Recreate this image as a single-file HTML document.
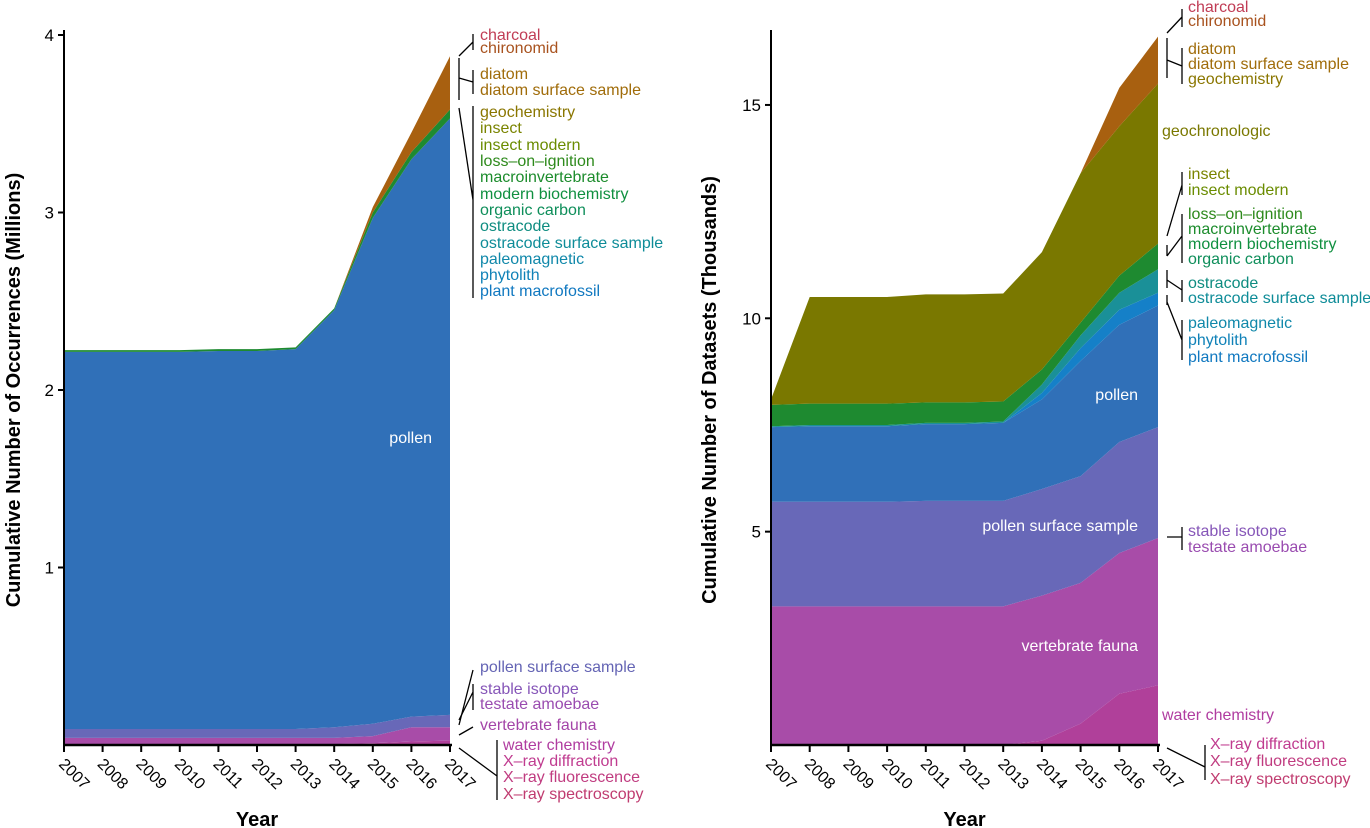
<!DOCTYPE html>
<html><head><meta charset="utf-8"><style>
body{margin:0;background:#fff;}
svg{display:block;font-family:"Liberation Sans",sans-serif;}
</style></head><body>
<svg id="chart" width="1370" height="828" viewBox="0 0 1370 828" xmlns="http://www.w3.org/2000/svg"></svg>
<script>
const years=[2007,2008,2009,2010,2011,2012,2013,2014,2015,2016,2017];
// Left panel: cumulative stacked tops (millions)
const L_water=[0.005,0.005,0.005,0.005,0.005,0.005,0.005,0.005,0.01,0.02,0.025];
const L_vert=[0.04,0.04,0.04,0.04,0.04,0.04,0.04,0.04,0.05,0.1,0.1];
const L_pss=[0.09,0.09,0.09,0.09,0.09,0.09,0.09,0.1,0.12,0.16,0.17];
const L_pollen=[2.215,2.215,2.215,2.215,2.22,2.22,2.23,2.45,2.97,3.3,3.53];
const L_green=[2.225,2.225,2.225,2.225,2.23,2.23,2.24,2.46,3.0,3.34,3.58];
const L_brown=[2.225,2.225,2.225,2.225,2.23,2.23,2.24,2.46,3.03,3.45,3.88];
const L_ticks=[1,2,3,4];
// Right panel: cumulative stacked tops (thousands)
const R_water=[0,0,0,0,0,0,0,0.1,0.5,1.2,1.4];
const R_vert=[3.25,3.25,3.25,3.25,3.25,3.25,3.25,3.5,3.8,4.5,4.85];
const R_pss=[5.7,5.7,5.7,5.7,5.72,5.72,5.72,6.0,6.3,7.1,7.45];
const R_pollen=[7.45,7.47,7.47,7.47,7.52,7.52,7.55,8.1,9.0,9.85,10.3];
const R_blue=[7.45,7.47,7.47,7.47,7.52,7.52,7.55,8.25,9.3,10.2,10.6];
const R_teal=[7.47,7.5,7.5,7.5,7.55,7.55,7.58,8.45,9.6,10.6,11.15];
const R_green=[7.97,8.0,8.0,8.0,8.03,8.03,8.05,8.8,9.9,11.0,11.75];
const R_olive=[8.1,10.5,10.5,10.5,10.56,10.56,10.58,11.55,13.4,14.5,15.5];
const R_brown=[8.1,10.5,10.5,10.5,10.56,10.56,10.58,11.55,13.4,15.4,16.6];
const R_ticks=[5,10,15];

const NS="http://www.w3.org/2000/svg";
const svg=document.getElementById('chart');
function el(t,a,p){const e=document.createElementNS(NS,t);for(const k in a)e.setAttribute(k,a[k]);(p||svg).appendChild(e);return e;}

function panel(cfg){
  const g=el('g',{});
  
  
  const x=i=>cfg.x0+(cfg.x1-cfg.x0)*(years[i]-2007)/10;
  const y=v=>cfg.y0-v*cfg.scale;
  let prev=years.map(()=>0);
  cfg.layers.forEach(L=>{
    let d='M'+years.map((_,i)=>x(i)+','+y(L.v[i])).join(' L');
    for(let i=years.length-1;i>=0;i--) d+=' L'+x(i)+','+y(prev[i]);
    const p=el('path',{d:d+'Z',fill:L.c},g);
    
    
    prev=L.v;
  });
  const ax=el('line',{x1:cfg.x0,y1:30,x2:cfg.x0,y2:cfg.y0,stroke:'#000','stroke-width':2},g);
  
  
  const bx=el('line',{x1:cfg.x0,y1:cfg.y0,x2:cfg.x1+2,y2:cfg.y0,stroke:'#000','stroke-width':2.5},g);
  
  
  cfg.ticks.forEach(t=>{
    el('line',{x1:cfg.x0-6,y1:y(t),x2:cfg.x0,y2:y(t),stroke:'#000','stroke-width':2},g);
    const tx=el('text',{x:cfg.x0-10,y:y(t)+6,'text-anchor':'end','font-size':17},g);
    tx.textContent=t;
    
    
  });
  years.forEach((yr,i)=>{
    el('line',{x1:x(i),y1:cfg.y0,x2:x(i),y2:cfg.y0+7,stroke:'#000','stroke-width':2},g);
    const tx=el('text',{x:x(i)-6,y:cfg.y0+20,'font-size':16,transform:`rotate(45 ${x(i)-6} ${cfg.y0+20})`},g);
    tx.textContent=yr;
    
    
  });
  const yt=el('text',{x:0,y:0,'font-size':20,'font-weight':'bold','text-anchor':'middle',transform:`translate(${cfg.ytx},${cfg.yty}) rotate(-90)`},g);
  yt.textContent=cfg.ytitle;
  
  
  const xt=el('text',{x:(cfg.x0+cfg.x1)/2+0,y:826,'font-size':20,'font-weight':'bold','text-anchor':'middle'},g);
  xt.textContent='Year';
  
  
  cfg.inner.forEach(t=>{
    const e=el('text',{x:t[1],y:t[2],'font-size':16,fill:'#fff','text-anchor':'end'},g);
    e.textContent=t[0];
    
    
  });
  cfg.labels.forEach(t=>{
    const e=el('text',{x:t[1],y:t[2]+5,'font-size':16,fill:t[3]},g);
    e.textContent=t[0];
    
    
  });
  cfg.lines.forEach(d=>el('path',{d:d,stroke:'#000','stroke-width':1.3,fill:'none'},g));
}
const C={charcoal:'#c03c55',chiro:'#a8521e',diatom:'#a06c0a',geo:'#8a7600',insect:'#7a8400',insectm:'#6a8c00',loi:'#2e8a1c',macro:'#1c8c2c',modbio:'#109040',org:'#0e8e5a',ostr:'#0e8c80',ostrs:'#0e8c98',paleo:'#1088aa',phyto:'#1082b8',plant:'#1078c0',pss:'#6464b4',stable:'#8656b8',testate:'#9a4cb0',vert:'#a444a8',water:'#b03ca0',xd:'#c03c90',xf:'#c03c80',xs:'#c03c70'};
panel({name:'occurrences-panel',x0:64,x1:450,y0:745,scale:177.5,ticks:L_ticks,
 ytitle:'Cumulative Number of Occurrences (Millions)',ytx:20,yty:390,
 layers:[{n:'area-water-chemistry',v:L_water,c:'#b0409a'},{n:'area-vertebrate-fauna',v:L_vert,c:'#a84ca8'},{n:'area-pollen-surface-sample',v:L_pss,c:'#6868b8'},{n:'area-pollen',v:L_pollen,c:'#3070b8'},{n:'area-green-group',v:L_green,c:'#1e8a30'},{n:'area-diatom-charcoal',v:L_brown,c:'#a86010'}],
 inner:[['pollen',432,443]],
 labels:[['charcoal',480,35,C.charcoal],['chironomid',480,48,C.chiro],['diatom',480,74,C.diatom],['diatom surface sample',480,90,C.diatom],['geochemistry',480,112,C.geo],['insect',480,128,C.insect],['insect modern',480,145,C.insectm],['loss–on–ignition',480,161,C.loi],['macroinvertebrate',480,177,C.macro],['modern biochemistry',480,194,C.modbio],['organic carbon',480,210,C.org],['ostracode',480,226,C.ostr],['ostracode surface sample',480,243,C.ostrs],['paleomagnetic',480,259,C.paleo],['phytolith',480,275,C.phyto],['plant macrofossil',480,291,C.plant],['pollen surface sample',480,667,C.pss],['stable isotope',480,689,C.stable],['testate amoebae',480,704,C.testate],['vertebrate fauna',480,725,C.vert],['water chemistry',503,745,C.water],['X–ray diffraction',503,761,C.xd],['X–ray fluorescence',503,777,C.xf],['X–ray spectroscopy',503,794,C.xs]],
 lines:['M459,56 L473,42 M473,34 L473,50','M459,58 L459,100 M459,78 L473,82 M473,70 L473,94','M459,108 L473,200 M473,106 L473,298','M459,725 L473,670','M459,720 L473,692 M473,684 L473,710','M459,735 L473,727','M459,748 L497,776 M497,740 L497,800']
});
panel({name:'datasets-panel',x0:771,x1:1158,y0:745,scale:42.67,ticks:R_ticks,
 ytitle:'Cumulative Number of Datasets (Thousands)',ytx:716,yty:390,
 layers:[{n:'area-water-chemistry',v:R_water,c:'#b0409a'},{n:'area-vertebrate-fauna',v:R_vert,c:'#a84ca8'},{n:'area-pollen-surface-sample',v:R_pss,c:'#6868b8'},{n:'area-pollen',v:R_pollen,c:'#3070b8'},{n:'area-plant-macrofossil',v:R_blue,c:'#1580c8'},{n:'area-ostracode',v:R_teal,c:'#1a9098'},{n:'area-green-group',v:R_green,c:'#1e8a30'},{n:'area-geochronologic',v:R_olive,c:'#7a7800'},{n:'area-diatom-charcoal',v:R_brown,c:'#a86010'}],
 inner:[['pollen',1138,400],['pollen surface sample',1138,531],['vertebrate fauna',1138,651]],
 labels:[['charcoal',1188,7,C.charcoal],['chironomid',1188,21,C.chiro],['diatom',1188,49,C.diatom],['diatom surface sample',1188,64,C.diatom],['geochemistry',1188,79,C.geo],['geochronologic',1162,131,'#7a7800'],['insect',1188,174,C.insect],['insect modern',1188,190,C.insectm],['loss–on–ignition',1188,214,C.loi],['macroinvertebrate',1188,229,C.macro],['modern biochemistry',1188,244,C.modbio],['organic carbon',1188,259,C.org],['ostracode',1188,283,C.ostr],['ostracode surface sample',1188,298,C.ostrs],['paleomagnetic',1188,323,C.paleo],['phytolith',1188,340,C.phyto],['plant macrofossil',1188,357,C.plant],['stable isotope',1188,531,C.stable],['testate amoebae',1188,547,C.testate],['water chemistry',1162,715,C.water],['X–ray diffraction',1210,744,C.xd],['X–ray fluorescence',1210,761,C.xf],['X–ray spectroscopy',1210,779,C.xs]],
 lines:['M1167,33 L1182,17 M1182,9 L1182,27','M1167,38 L1167,78 M1167,60 L1182,66 M1182,48 L1182,84','M1167,236 L1182,185 M1182,172 L1182,195','M1167,245 L1167,256 M1167,256 L1182,236 M1182,214 L1182,263','M1167,270 L1167,288 M1167,280 L1182,290 M1182,280 L1182,302','M1167,295 L1167,305 M1167,302 L1182,340 M1182,320 L1182,360','M1167,537 L1182,537 M1182,527 L1182,550','M1167,748 L1205,767 M1205,745 L1205,780']
});
</script>
</body></html>
